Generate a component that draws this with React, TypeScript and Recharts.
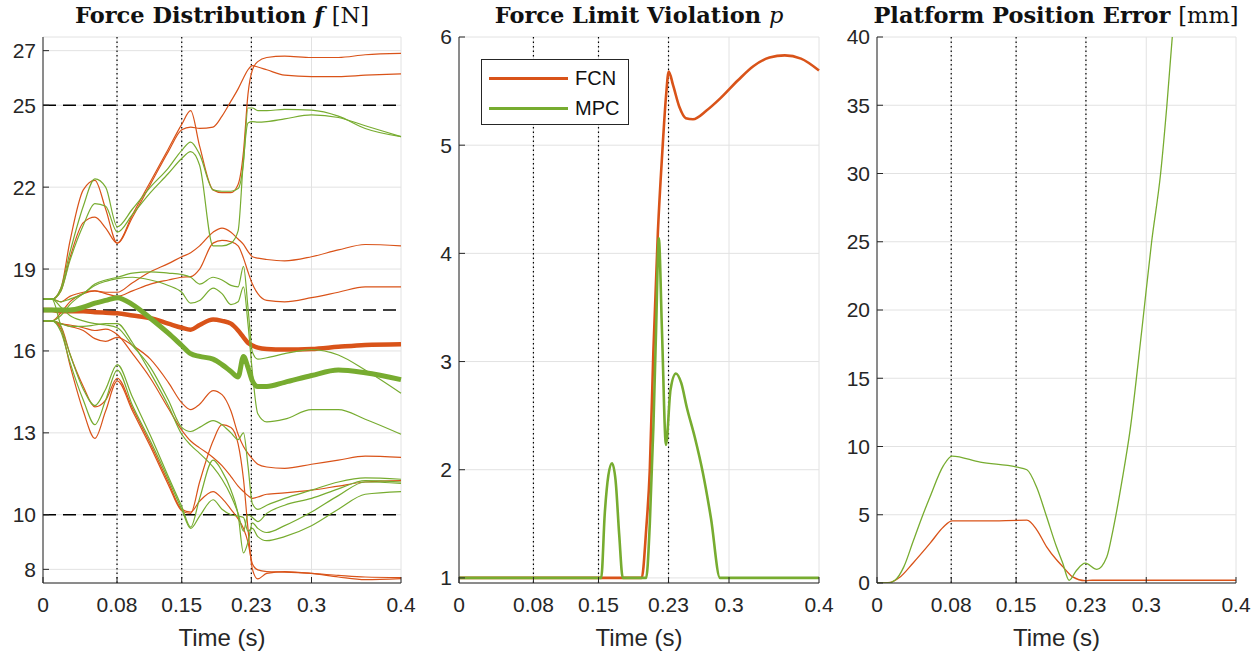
import React from 'react';
import { LineChart, Line, XAxis, YAxis, CartesianGrid, ReferenceLine, Legend } from 'recharts';

const FCN = '#D95319';
const MPC = '#77AC30';
const INK = '#262626';
const GRID = '#e2e2e2';
const SANS = '"Liberation Sans", Arial, Helvetica, sans-serif';
const SERIF = '"DejaVu Serif", serif';

// time axis: labels in the figure are rounded phase instants
const timeTicks = [0, 0.0827, 0.155, 0.2328, 0.3, 0.4];
const timeLabels = ['0', '0.08', '0.15', '0.23', '0.3', '0.4'];
const phaseTimes = [0.0827, 0.155, 0.2328];

// ---- panel 1: force distribution f [N] ----
const forceTime = [0, 0.01, 0.02, 0.03, 0.045, 0.058, 0.07, 0.083, 0.1, 0.12, 0.14, 0.155, 0.165, 0.175, 0.19, 0.2, 0.21, 0.218, 0.224, 0.229, 0.234, 0.24, 0.25, 0.27, 0.3, 0.33, 0.36, 0.4];

const fcnCable1 = [17.9, 17.9, 18.3, 20.0, 21.9, 22.25, 21.2, 19.95, 21.0, 22.2, 23.4, 24.3, 24.8, 23.5, 21.9, 21.8, 21.8, 22.1, 23.3, 25.4, 26.3, 26.6, 26.75, 26.8, 26.75, 26.75, 26.85, 26.9];
const fcnCable2 = [17.9, 17.9, 18.2, 19.4, 20.7, 20.9, 20.5, 19.95, 20.9, 22.1, 23.3, 24.1, 24.2, 24.15, 24.2, 24.6, 25.15, 25.6, 26.0, 26.3, 26.45, 26.4, 26.3, 26.1, 26.05, 26.05, 26.1, 26.15];
const fcnCable3 = [17.9, 17.9, 17.8, 18.0, 18.15, 18.2, 18.15, 18.15, 18.5, 18.9, 19.2, 19.45, 19.6, 19.85, 20.35, 20.5, 20.35, 20.1, 19.9, 19.65, 19.45, 19.4, 19.35, 19.3, 19.45, 19.7, 19.9, 19.85];
const fcnCable4 = [17.1, 17.1, 17.4, 17.8, 18.1, 18.2, 18.1, 18.0, 18.2, 18.45, 18.6, 18.7, 18.72, 19.0, 19.95, 20.05, 20.0, 19.85, 19.4, 18.9, 18.45, 18.1, 17.85, 17.8, 17.95, 18.15, 18.35, 18.35];
const fcnCable5 = [17.1, 17.1, 17.0, 16.9, 16.75, 16.45, 16.35, 16.5, 16.2, 15.7, 14.85, 14.1, 13.85, 14.05, 14.55, 14.4, 13.8, 12.95, 12.5, 12.25, 12.05, 11.85, 11.75, 11.7, 11.85, 12.0, 12.15, 12.1];
const fcnCable6 = [17.1, 17.1, 17.0, 16.95, 16.85, 16.75, 16.8, 16.6, 15.9, 15.0, 13.9, 13.1, 12.7, 12.45, 12.1, 11.8, 11.4, 11.05, 10.85, 10.7, 10.6, 10.65, 10.75, 10.8, 10.9, 11.05, 11.2, 11.25];
const fcnCable7 = [17.1, 17.1, 16.9, 15.9, 14.7, 13.95, 14.2, 15.0, 13.9, 12.6, 11.2, 10.2, 10.1, 10.5, 10.85, 10.6, 10.2, 9.85, 9.5, 9.0, 8.2, 7.98, 7.92, 7.9, 7.85, 7.78, 7.72, 7.7];
const fcnCable8 = [17.1, 17.1, 16.8, 15.5, 13.8, 12.8, 13.8, 14.9, 13.8, 12.5, 11.1, 10.15, 10.05, 11.2, 12.7, 13.3, 13.2, 12.6, 11.3, 9.5, 8.0, 7.65, 7.85, 7.92, 7.85, 7.72, 7.62, 7.66];
const fcnMean = [17.5, 17.5, 17.45, 17.45, 17.45, 17.42, 17.4, 17.38, 17.3, 17.2, 17.0, 16.85, 16.78, 16.95, 17.15, 17.1, 17.0, 16.75, 16.5, 16.3, 16.2, 16.12, 16.07, 16.05, 16.07, 16.15, 16.22, 16.25];

const mpcCable1 = [17.9, 17.9, 18.3, 19.6, 21.3, 22.3, 22.0, 20.55, 21.2, 22.0, 22.7, 23.35, 23.65, 23.2, 21.9, 21.85, 21.85, 21.95, 22.9, 24.9, 24.9, 24.8, 24.8, 24.85, 24.82, 24.6, 24.15, 23.85];
const mpcCable2 = [17.9, 17.9, 18.2, 19.3, 20.6, 21.4, 21.3, 20.35, 21.0, 21.8, 22.5, 23.05, 23.3, 22.8, 19.85, 19.85, 19.95, 20.4, 23.0, 24.35, 24.4, 24.38, 24.4, 24.5, 24.65, 24.55, 24.25, 23.85];
const mpcCable3 = [17.9, 17.9, 17.8, 17.9, 18.1, 18.45, 18.6, 18.7, 18.85, 18.9, 18.85, 18.8, 18.7, 18.45, 18.7, 18.6, 18.4, 18.35, 19.1, 17.6, 15.95, 15.7, 15.75, 15.9, 16.05, 15.85, 15.3, 14.45];
const mpcCable4 = [17.1, 17.1, 17.3, 17.7, 18.1, 18.4, 18.55, 18.65, 18.7, 18.6, 18.4, 18.15, 17.75, 17.85, 18.3, 18.1, 17.7, 17.8, 18.35, 17.0, 15.2, 13.7, 13.4, 13.5, 13.85, 13.85, 13.5, 12.95];
const mpcCable5 = [17.9, 17.9, 17.6, 17.3, 17.1, 17.0, 16.95, 16.85, 16.2, 15.4, 14.2, 13.2, 13.05, 13.2, 13.45, 13.3, 13.0, 12.75, 13.0, 11.8, 10.4, 10.2, 10.35, 10.6, 10.9, 11.2, 11.35, 11.3];
const mpcCable6 = [17.1, 17.1, 17.0, 16.9, 16.9, 16.95, 17.0, 17.0, 16.3, 15.2, 14.0, 12.95, 12.55, 12.25, 11.75, 11.3, 10.7, 10.05, 9.4, 10.0, 9.9, 9.75, 10.05, 10.35, 10.6, 10.95, 11.25, 11.2];
const mpcCable7 = [17.9, 17.9, 16.9, 15.9, 14.6, 14.0, 14.6, 15.5, 14.3, 12.9, 11.4, 10.3, 9.55, 10.6, 12.0, 11.6, 10.9, 10.0, 8.6, 9.0, 9.7, 9.5, 9.35, 9.6, 10.1, 10.7, 11.2, 11.15];
const mpcCable8 = [17.1, 17.1, 16.7, 15.6, 14.2, 13.3, 14.2, 15.3, 14.0, 12.7, 11.3, 10.2, 9.5, 9.95, 10.55, 10.2, 10.0, 9.95, 9.9, 9.4, 9.5, 9.2, 9.05, 9.2, 9.6, 10.2, 10.75, 10.85];
const mpcMean = [17.5, 17.5, 17.5, 17.5, 17.6, 17.75, 17.85, 17.95, 17.7, 17.2, 16.65, 16.2, 15.9, 15.8, 15.7, 15.5, 15.25, 15.05, 15.8, 15.4, 14.9, 14.7, 14.7, 14.85, 15.1, 15.3, 15.2, 14.95];

const forceLimits = [25, 17.5, 10];
const forceTicks = [8, 10, 13, 16, 19, 22, 25, 27];

// ---- panel 2: force limit violation p ----
const fcnViolationTime = [0, 0.203, 0.208, 0.212, 0.216, 0.221, 0.226, 0.23, 0.233, 0.238, 0.245, 0.252, 0.26, 0.275, 0.29, 0.31, 0.327, 0.345, 0.362, 0.38, 0.4];
const fcnViolation = [1, 1, 1.45, 2.0, 3.1, 4.2, 4.95, 5.45, 5.68, 5.55, 5.35, 5.25, 5.24, 5.32, 5.43, 5.6, 5.73, 5.81, 5.83, 5.8, 5.69];
const mpcViolationTime = [0, 0.158, 0.162, 0.166, 0.17, 0.174, 0.178, 0.182, 0.208, 0.212, 0.216, 0.219, 0.222, 0.2255, 0.23, 0.235, 0.241, 0.247, 0.253, 0.262, 0.271, 0.28, 0.29, 0.4];
const mpcViolation = [1, 1, 1.6, 1.95, 2.06, 1.9, 1.4, 1, 1, 1.5, 2.4, 3.3, 4.14, 3.29, 2.23, 2.74, 2.89, 2.8, 2.58, 2.3, 1.97, 1.55, 1, 1];
const violationTicks = [1, 2, 3, 4, 5, 6];

// ---- panel 3: platform position error [mm] ----
const fcnErrorTime = [0, 0.015, 0.025, 0.04, 0.059, 0.074, 0.0836, 0.12, 0.167, 0.178, 0.189, 0.2, 0.207, 0.218, 0.232, 0.24, 0.4];
const fcnError = [0, 0.05, 0.4, 1.45, 2.9, 4.1, 4.55, 4.55, 4.6, 3.9, 2.65, 1.7, 1.2, 0.45, 0.17, 0.2, 0.2];
const mpcErrorTime = [0, 0.012, 0.02, 0.03, 0.04, 0.05, 0.059, 0.074, 0.0836, 0.115, 0.155, 0.167, 0.178, 0.189, 0.2, 0.207, 0.214, 0.222, 0.232, 0.245, 0.256, 0.263, 0.273, 0.282, 0.295, 0.306, 0.316, 0.323, 0.329, 0.34];
const mpcError = [0, 0, 0.2, 1.2, 3.0, 4.8, 6.3, 8.6, 9.3, 8.85, 8.5, 8.3, 7.0, 4.85, 2.65, 1.45, 0.2, 0.9, 1.45, 1.0, 1.9, 3.9, 7.5, 11.2, 18.5, 25, 30, 35, 40, 47.5];
const errorTicks = [0, 5, 10, 15, 20, 25, 30, 35, 40];

const legendItems = [
  { name: 'FCN', color: FCN },
  { name: 'MPC', color: MPC },
];

const fcnCables = [fcnCable1, fcnCable2, fcnCable3, fcnCable4, fcnCable5, fcnCable6, fcnCable7, fcnCable8];
const mpcCables = [mpcCable1, mpcCable2, mpcCable3, mpcCable4, mpcCable5, mpcCable6, mpcCable7, mpcCable8];

const forceData = forceTime.map((t, i) => {
  const row: Record<string, number> = { t, fcnMean: fcnMean[i], mpcMean: mpcMean[i] };
  fcnCables.forEach((c, k) => { row[`fcn${k}`] = c[i]; });
  mpcCables.forEach((c, k) => { row[`mpc${k}`] = c[i]; });
  return row;
});

const toPoints = (ts: number[], vs: number[]) => ts.map((t, i) => ({ t, v: vs[i] }));

const fmtTime = (v: number) => {
  const i = timeTicks.indexOf(v);
  return i >= 0 ? timeLabels[i] : String(v);
};

const tickStyle = { fontSize: 21, fill: INK, fontFamily: SANS };

// shared frame: grid, box with inward ticks, phase markers
const frame = (yDomain: number[], yTicks: number[], yWidth: number, overflow = false) => [
  <CartesianGrid key="grid" stroke={GRID} strokeWidth={1} />,
  <XAxis
    key="xb"
    dataKey="t"
    type="number"
    domain={[0, 0.4]}
    ticks={timeTicks}
    interval={0}
    tickFormatter={fmtTime}
    tick={tickStyle}
    tickSize={-6}
    tickMargin={20}
    height={70}
    stroke={INK}
    label={{ value: 'Time (s)', position: 'insideBottom', offset: 7, fill: INK, fontSize: 24, fontFamily: SANS }}
  />,
  <XAxis key="xt" xAxisId="top" orientation="top" dataKey="t" type="number" domain={[0, 0.4]} ticks={timeTicks} interval={0} tick={false} tickSize={-6} height={0} stroke={INK} />,
  <YAxis
    key="yl"
    type="number"
    domain={yDomain}
    ticks={yTicks}
    interval={0}
    tick={tickStyle}
    tickSize={-6}
    tickMargin={13}
    width={yWidth}
    stroke={INK}
    allowDataOverflow={overflow}
  />,
  <YAxis key="yr" yAxisId="right" orientation="right" type="number" domain={yDomain} ticks={yTicks} interval={0} tick={false} tickSize={-6} width={0} stroke={INK} allowDataOverflow />,
  ...phaseTimes.map((x) => (
    <ReferenceLine key={`ph${x}`} x={x} stroke="#000" strokeWidth={1.2} strokeDasharray="1.5 3" />
  )),
];

const Title = ({ center, children }: { center: number; children: React.ReactNode }) => (
  <div
    style={{
      position: 'absolute',
      left: center - 250,
      width: 500,
      top: 0,
      textAlign: 'center',
      fontFamily: SERIF,
      fontWeight: 'bold',
      fontSize: 22.5,
      lineHeight: '30px',
      color: '#111',
      whiteSpace: 'nowrap',
    }}
  >
    {children}
  </div>
);

const renderLegend = () => (
  <div style={{ position: 'relative', width: 148, height: 66, boxSizing: 'border-box', border: `1px solid ${INK}`, background: '#fff' }}>
    {legendItems.map((it, i) => (
      <div key={it.name} style={{ position: 'absolute', left: 0, top: 5 + i * 30, height: 26, width: 146 }}>
        <div style={{ position: 'absolute', left: 7, top: 12, width: 79, height: 3, background: it.color }} />
        <span style={{ position: 'absolute', left: 93, top: 1, fontFamily: SANS, fontSize: 20, color: '#111', lineHeight: '24px' }}>{it.name}</span>
      </div>
    ))}
  </div>
);

const CHART_H = 653;
const MARGIN = { top: 37, right: 22, left: 0, bottom: 0 };

export default function App() {
  return (
    <div style={{ position: 'absolute', left: 0, top: 0, width: 1259, height: 653, background: '#fff', overflow: 'hidden' }}>
      <Title center={222}>
        Force Distribution <span style={{ fontStyle: 'italic' }}>f</span> <span style={{ fontWeight: 'normal' }}>[N]</span>
      </Title>
      <Title center={639}>
        Force Limit Violation <span style={{ fontStyle: 'italic', fontWeight: 'normal' }}>p</span>
      </Title>
      <Title center={1056}>
        Platform Position Error <span style={{ fontWeight: 'normal' }}>[mm]</span>
      </Title>

      <div style={{ position: 'absolute', left: 0, top: 0 }}>
        <LineChart width={423} height={CHART_H} data={forceData} margin={MARGIN}>
          {frame([7.5, 27.5], forceTicks, 43)}
          {forceLimits.map((y) => (
            <ReferenceLine key={`lim${y}`} y={y} stroke="#000" strokeWidth={1.3} strokeDasharray="13 7" />
          ))}
          {fcnCables.map((_, k) => (
            <Line key={`fcn${k}`} dataKey={`fcn${k}`} type="monotone" stroke={FCN} strokeWidth={1.2} dot={false} activeDot={false} isAnimationActive={false} />
          ))}
          <Line dataKey="fcnMean" type="monotone" stroke={FCN} strokeWidth={4.5} dot={false} activeDot={false} isAnimationActive={false} />
          {mpcCables.map((_, k) => (
            <Line key={`mpc${k}`} dataKey={`mpc${k}`} type="monotone" stroke={MPC} strokeWidth={1.2} dot={false} activeDot={false} isAnimationActive={false} />
          ))}
          <Line dataKey="mpcMean" type="monotone" stroke={MPC} strokeWidth={5} dot={false} activeDot={false} isAnimationActive={false} />
        </LineChart>
      </div>

      <div style={{ position: 'absolute', left: 410, top: 0 }}>
        <LineChart width={431} height={CHART_H} margin={MARGIN}>
          {frame([0.953, 6], violationTicks, 49)}
          <Line data={toPoints(fcnViolationTime, fcnViolation)} dataKey="v" name="FCN" type="monotone" stroke={FCN} strokeWidth={2.6} dot={false} activeDot={false} isAnimationActive={false} />
          <Line data={toPoints(mpcViolationTime, mpcViolation)} dataKey="v" name="MPC" type="monotone" stroke={MPC} strokeWidth={2.6} dot={false} activeDot={false} isAnimationActive={false} />
          <Legend
            layout="horizontal"
            verticalAlign="middle"
            align="center"
            content={renderLegend}
            wrapperStyle={{ position: 'absolute', left: 71, top: 59, width: 148, height: 66 }}
          />
        </LineChart>
      </div>

      <div style={{ position: 'absolute', left: 830, top: 0 }}>
        <LineChart width={428} height={CHART_H} margin={MARGIN}>
          {frame([0, 40], errorTicks, 47, true)}
          <Line data={toPoints(fcnErrorTime, fcnError)} dataKey="v" name="FCN" type="monotone" stroke={FCN} strokeWidth={1.3} dot={false} activeDot={false} isAnimationActive={false} />
          <Line data={toPoints(mpcErrorTime, mpcError)} dataKey="v" name="MPC" type="monotone" stroke={MPC} strokeWidth={1.3} dot={false} activeDot={false} isAnimationActive={false} />
        </LineChart>
      </div>
    </div>
  );
}
